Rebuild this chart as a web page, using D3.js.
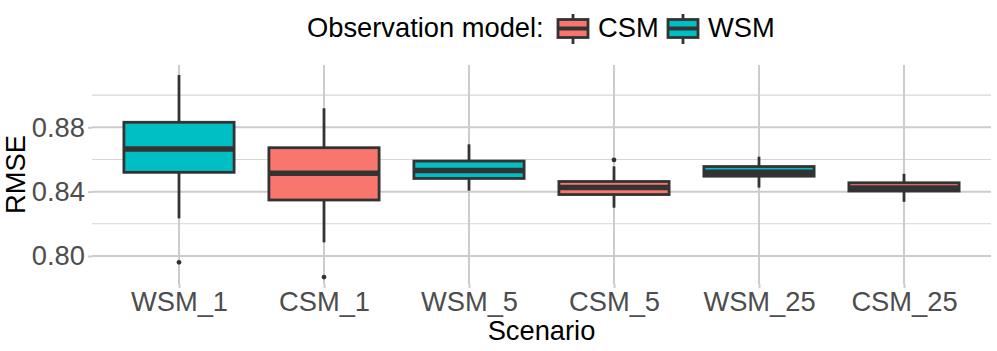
<!DOCTYPE html>
<html>
<head>
<meta charset="utf-8">
<script src="https://cdn.jsdelivr.net/npm/d3@7"></script>
<style>
  body { margin: 0; background: #fff; }
  text { font-family: "Liberation Sans", Arial, sans-serif; }
</style>
</head>
<body>
<svg id="chart" width="997" height="351"></svg>
<script>
// box statistics
var scenarios = ['WSM_1', 'CSM_1', 'WSM_5', 'CSM_5', 'WSM_25', 'CSM_25'];
var models = ['WSM', 'CSM', 'WSM', 'CSM', 'WSM', 'CSM'];
var whiskerLow = [0.8234, 0.8085, 0.8406, 0.8300, 0.8425, 0.8337];
var q1 = [0.8520, 0.8348, 0.8482, 0.8382, 0.8496, 0.8404];
var medians = [0.8665, 0.8514, 0.8531, 0.8426, 0.8521, 0.8423];
var q3 = [0.8831, 0.8673, 0.8590, 0.8463, 0.8556, 0.8455];
var whiskerHigh = [0.9125, 0.8918, 0.8694, 0.8557, 0.8617, 0.8511];
var outliers = [[0.7961], [0.7869], [], [0.8597], [], []];
var yTicks = [0.80, 0.84, 0.88];
var yMinor = [0.82, 0.86, 0.90];
var legendModels = ['CSM', 'WSM'];

(function () {
  var colors = { CSM: '#F8766D', WSM: '#00BFC4' };
  var dark = '#333333';
  var fontSize = '27.3px';

  var svg = d3.select('#chart');
  var pLeft = 92, pRight = 991, pTop = 65, pBottom = 284;

  var x = d3.scalePoint().domain(scenarios).range([pLeft, pRight]).padding(0.6);
  var y = d3.scaleLinear().domain([0.7826, 0.9187]).range([pBottom, pTop]);
  var boxW = x.step() * 0.76;

  // grid
  svg.append('g').selectAll('line')
    .data(yMinor).enter().append('line')
    .attr('x1', pLeft).attr('x2', pRight)
    .attr('y1', function(d) { return y(d); }).attr('y2', function(d) { return y(d); })
    .attr('stroke', '#d6d6d6').attr('stroke-width', 1.1);

  svg.append('g').selectAll('line')
    .data(yTicks).enter().append('line')
    .attr('x1', pLeft).attr('x2', pRight)
    .attr('y1', function(d) { return y(d); }).attr('y2', function(d) { return y(d); })
    .attr('stroke', '#cccccc').attr('stroke-width', 2);

  svg.append('g').selectAll('line')
    .data(scenarios).enter().append('line')
    .attr('x1', function(d) { return x(d); }).attr('x2', function(d) { return x(d); })
    .attr('y1', pTop).attr('y2', pBottom)
    .attr('stroke', '#cccccc').attr('stroke-width', 2);

  // axes
  var yAxis = svg.append('g')
    .attr('transform', 'translate(' + pLeft + ',0)')
    .call(d3.axisLeft(y).tickValues(yTicks).tickFormat(d3.format('.2f')).tickSize(4).tickPadding(3));
  var xAxis = svg.append('g')
    .attr('transform', 'translate(0,' + pBottom + ')')
    .call(d3.axisBottom(x).tickSize(4).tickPadding(4));
  [yAxis, xAxis].forEach(function(a) {
    a.select('.domain').remove();
    a.selectAll('.tick line').attr('stroke', '#cccccc').attr('stroke-width', 2);
    a.selectAll('.tick text').attr('fill', '#4d4d4d').style('font-size', fontSize)
      .style('font-family', '"Liberation Sans", Arial, sans-serif');
  });
  xAxis.selectAll('.tick text').attr('dy', '0.71em');

  // boxes
  var g = svg.append('g').selectAll('g')
    .data(scenarios).enter().append('g');

  g.append('line')
    .attr('x1', function(d) { return x(d); }).attr('x2', function(d) { return x(d); })
    .attr('y1', function(d, i) { return y(whiskerHigh[i]); })
    .attr('y2', function(d, i) { return y(q3[i]); })
    .attr('stroke', dark).attr('stroke-width', 2.8);
  g.append('line')
    .attr('x1', function(d) { return x(d); }).attr('x2', function(d) { return x(d); })
    .attr('y1', function(d, i) { return y(q1[i]); })
    .attr('y2', function(d, i) { return y(whiskerLow[i]); })
    .attr('stroke', dark).attr('stroke-width', 2.8);

  g.append('rect')
    .attr('x', function(d) { return x(d) - boxW / 2; })
    .attr('width', boxW)
    .attr('y', function(d, i) { return y(q3[i]); })
    .attr('height', function(d, i) { return y(q1[i]) - y(q3[i]); })
    .attr('fill', function(d, i) { return colors[models[i]]; })
    .attr('stroke', dark).attr('stroke-width', 2.8);

  g.append('line')
    .attr('x1', function(d) { return x(d) - boxW / 2; })
    .attr('x2', function(d) { return x(d) + boxW / 2; })
    .attr('y1', function(d, i) { return y(medians[i]); })
    .attr('y2', function(d, i) { return y(medians[i]); })
    .attr('stroke', dark).attr('stroke-width', 5.5);

  g.each(function(d, i) {
    d3.select(this).selectAll('circle')
      .data(outliers[i]).enter().append('circle')
      .attr('cx', x(d)).attr('cy', function(v) { return y(v); })
      .attr('r', 2.4).attr('fill', dark);
  });

  // axis titles
  svg.append('text')
    .attr('x', (pLeft + pRight) / 2).attr('y', 340)
    .attr('text-anchor', 'middle').style('font-size', fontSize).attr('fill', '#000')
    .text('Scenario');
  svg.append('text')
    .attr('transform', 'translate(25,' + (pTop + pBottom) / 2 + ') rotate(-90)')
    .attr('text-anchor', 'middle').style('font-size', fontSize).attr('fill', '#000')
    .text('RMSE');

  // legend
  var legend = svg.append('g');
  legend.append('text')
    .attr('x', 307).attr('y', 37)
    .style('font-size', fontSize).attr('fill', '#000')
    .text('Observation model:');

  var keyX = [573, 683];
  var labelX = [598, 708];
  var keys = legend.selectAll('g.key')
    .data(legendModels).enter().append('g').attr('class', 'key');
  keys.append('line')
    .attr('x1', function(d, i) { return keyX[i]; }).attr('x2', function(d, i) { return keyX[i]; })
    .attr('y1', 14).attr('y2', 44)
    .attr('stroke', dark).attr('stroke-width', 2.8);
  keys.append('rect')
    .attr('x', function(d, i) { return keyX[i] - 15; }).attr('y', 19.5)
    .attr('width', 30).attr('height', 18)
    .attr('fill', function(d) { return colors[d]; })
    .attr('stroke', dark).attr('stroke-width', 2.8);
  keys.append('line')
    .attr('x1', function(d, i) { return keyX[i] - 15; }).attr('x2', function(d, i) { return keyX[i] + 15; })
    .attr('y1', 28.5).attr('y2', 28.5)
    .attr('stroke', dark).attr('stroke-width', 4);
  keys.append('text')
    .attr('x', function(d, i) { return labelX[i]; }).attr('y', 37)
    .style('font-size', fontSize).attr('fill', '#000')
    .text(function(d) { return d; });
})();
</script>
</body>
</html>
